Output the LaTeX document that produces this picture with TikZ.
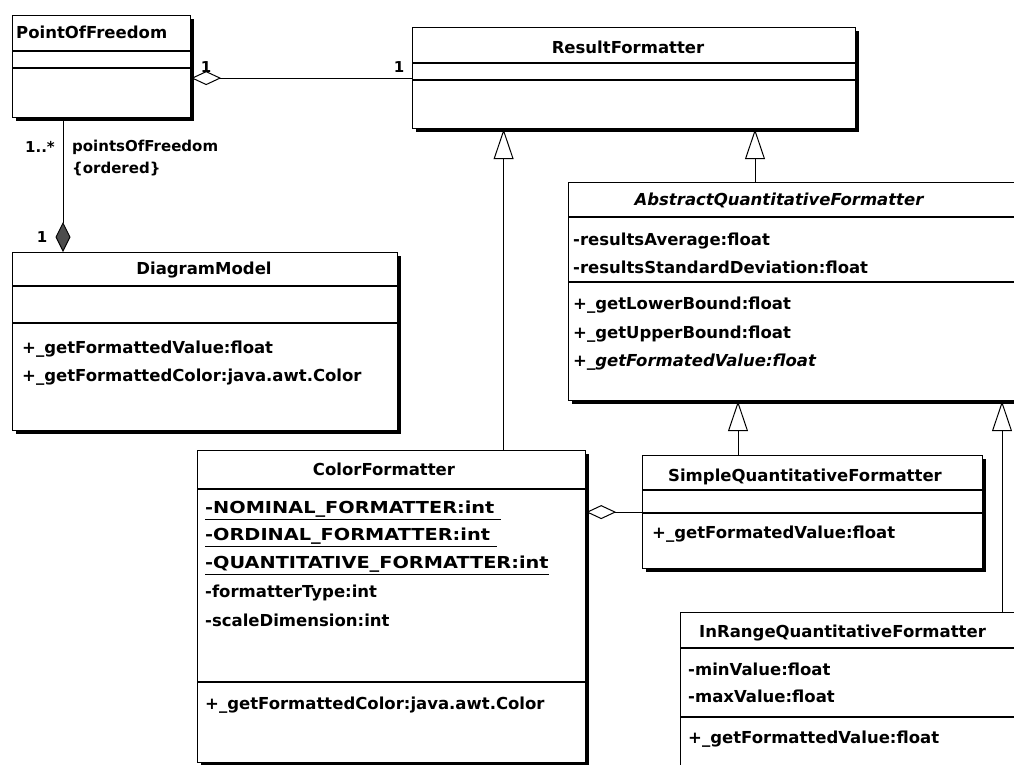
\documentclass[tikz,border=0pt]{standalone}
\usepackage{fontspec}
\setmainfont{DejaVu Sans}
\usetikzlibrary{arrows.meta,shadows}

\begin{document}
\begin{tikzpicture}[x=1pt,y=-1pt,
    classbox/.style={draw,line width=1.2pt,fill=white,anchor=north west,inner sep=0pt,
      drop shadow={shadow xshift=3pt,shadow yshift=-3pt,fill=black,opacity=1}},
    sep/.style={line width=1.2pt},
    member/.style={anchor=west,inner sep=0pt,text height=12pt,text depth=3pt,
      font=\fontsize{16.5}{19}\selectfont\bfseries},
    title/.style={member,anchor=center},
    mult/.style={inner sep=0pt,font=\fontsize{15}{18}\selectfont\bfseries},
    gen/.style={-{Triangle[open,length=30pt,width=20pt]},line width=1pt},
    aggr/.style={{Diamond[open,length=30pt,width=14pt]}-,line width=1pt},
    compo/.style={-{Diamond[length=30pt,width=15pt,fill=black!70]},line width=1pt}]
  \useasboundingbox (0,0) rectangle (1014,764);
  \clip (0,0) rectangle (1014,764);

  % PointOfFreedom
  \node[classbox,minimum width=178pt,minimum height=102pt] (pof) at (12,15) {};
  \draw[sep] (pof.west |- 0,51) -- (pof.east |- 0,51);
  \draw[sep] (pof.west |- 0,68) -- (pof.east |- 0,68);
  \node[member] (pofname) at (16,34) {PointOfFreedom};

  % ResultFormatter
  \node[classbox,minimum width=443pt,minimum height=101pt] (rf) at (412,27) {};
  \draw[sep] (rf.west |- 0,63) -- (rf.east |- 0,63);
  \draw[sep] (rf.west |- 0,80) -- (rf.east |- 0,80);
  \node[title] (rfname) at (628,49) {ResultFormatter};

  % DiagramModel
  \node[classbox,minimum width=385pt,minimum height=178pt] (dm) at (12,252) {};
  \draw[sep] (dm.west |- 0,286) -- (dm.east |- 0,286);
  \draw[sep] (dm.west |- 0,323) -- (dm.east |- 0,323);
  \node[title] (dmname) at (204,270) {DiagramModel};
  \node[member] (dm1) at (22,349) {+\_getFormattedValue:float};
  \node[member] (dm2) at (22,377) {+\_getFormattedColor:java.awt.Color};

  % AbstractQuantitativeFormatter
  \node[classbox,minimum width=480pt,minimum height=218pt] (aq) at (568,182) {};
  \draw[sep] (aq.west |- 0,217) -- (aq.east |- 0,217);
  \draw[sep] (aq.west |- 0,282) -- (aq.east |- 0,282);
  \node[title,font=\fontsize{16.5}{19}\selectfont\bfseries\itshape] (aqname) at (779,201) {AbstractQuantitativeFormatter};
  \node[member] (aq1) at (573,241) {-resultsAverage:float};
  \node[member] (aq2) at (573,269) {-resultsStandardDeviation:float};
  \node[member] (aq3) at (573,305) {+\_getLowerBound:float};
  \node[member] (aq4) at (573,334) {+\_getUpperBound:float};
  \node[member,font=\fontsize{16.5}{19}\selectfont\bfseries\itshape] (aq5) at (573,362) {+\_getFormatedValue:float};

  % ColorFormatter
  \node[classbox,minimum width=388pt,minimum height=312pt] (cf) at (197,450) {};
  \draw[sep] (cf.west |- 0,489) -- (cf.east |- 0,489);
  \draw[sep] (cf.west |- 0,682) -- (cf.east |- 0,682);
  \node[title] (cfname) at (384,471) {ColorFormatter};
  \node[member] (cf1) at (205,509) {\scalebox{1.17}[1]{\underline{-NOMINAL\_FORMATTER:int\ }}};
  \node[member] (cf2) at (205,536) {\scalebox{1.17}[1]{\underline{-ORDINAL\_FORMATTER:int\ }}};
  \node[member] (cf3) at (205,564) {\scalebox{1.17}[1]{\underline{-QUANTITATIVE\_FORMATTER:int}}};
  \node[member] (cf4) at (205,593) {-formatterType:int};
  \node[member] (cf5) at (205,622) {-scaleDimension:int};
  \node[member] (cf6) at (205,705) {+\_getFormattedColor:java.awt.Color};

  % SimpleQuantitativeFormatter
  \node[classbox,minimum width=340pt,minimum height=113pt] (sq) at (642,455) {};
  \draw[sep] (sq.west |- 0,490) -- (sq.east |- 0,490);
  \draw[sep] (sq.west |- 0,513) -- (sq.east |- 0,513);
  \node[title] (sqname) at (805,477) {SimpleQuantitativeFormatter};
  \node[member] (sq1) at (652,534) {+\_getFormatedValue:float};

  % InRangeQuantitativeFormatter
  \node[classbox,minimum width=360pt,minimum height=180pt] (ir) at (680,612) {};
  \draw[sep] (ir.west |- 0,648) -- (ir.east |- 0,648);
  \draw[sep] (ir.west |- 0,717) -- (ir.east |- 0,717);
  \node[member] (irname) at (699,633) {InRangeQuantitativeFormatter};
  \node[member] (ir1) at (688,671) {-minValue:float};
  \node[member] (ir2) at (688,698) {-maxValue:float};
  \node[member] (ir3) at (688,739) {+\_getFormattedValue:float};

  % associations
  \draw[aggr] (pof.east |- rf.west) -- (rf.west);
  \node[mult] (pofone) at (206,67) {1};
  \node[mult] (rfone) at (399,67) {1};

  \draw[compo] ([xshift=51pt]pof.south west) -- ([xshift=51pt]dm.north west);
  \node[mult,anchor=east] (manyend) at (55,147) {1..*};
  \node[mult,anchor=west] (rolename) at (72,147) {pointsOfFreedom};
  \node[mult,anchor=west] (ordered) at (72,169) {\{ordered\}};
  \node[mult] (dmone) at (42,237) {1};

  \draw[aggr] (cf.east |- sq.west) -- (sq.west);

  % generalizations
  \coordinate (cfup) at ([xshift=112pt]cf.north);
  \draw[gen] (cfup) -- (cfup |- rf.south);
  \coordinate (aqup) at ([xshift=187pt]aq.north west);
  \draw[gen] (aqup) -- (aqup |- rf.south);
  \coordinate (squp) at ([xshift=96pt]sq.north west);
  \draw[gen] (squp) -- (squp |- aq.south);
  \coordinate (irup) at ([xshift=322pt]ir.north west);
  \draw[gen] (irup) -- (irup |- aq.south);
\end{tikzpicture}
\end{document}
